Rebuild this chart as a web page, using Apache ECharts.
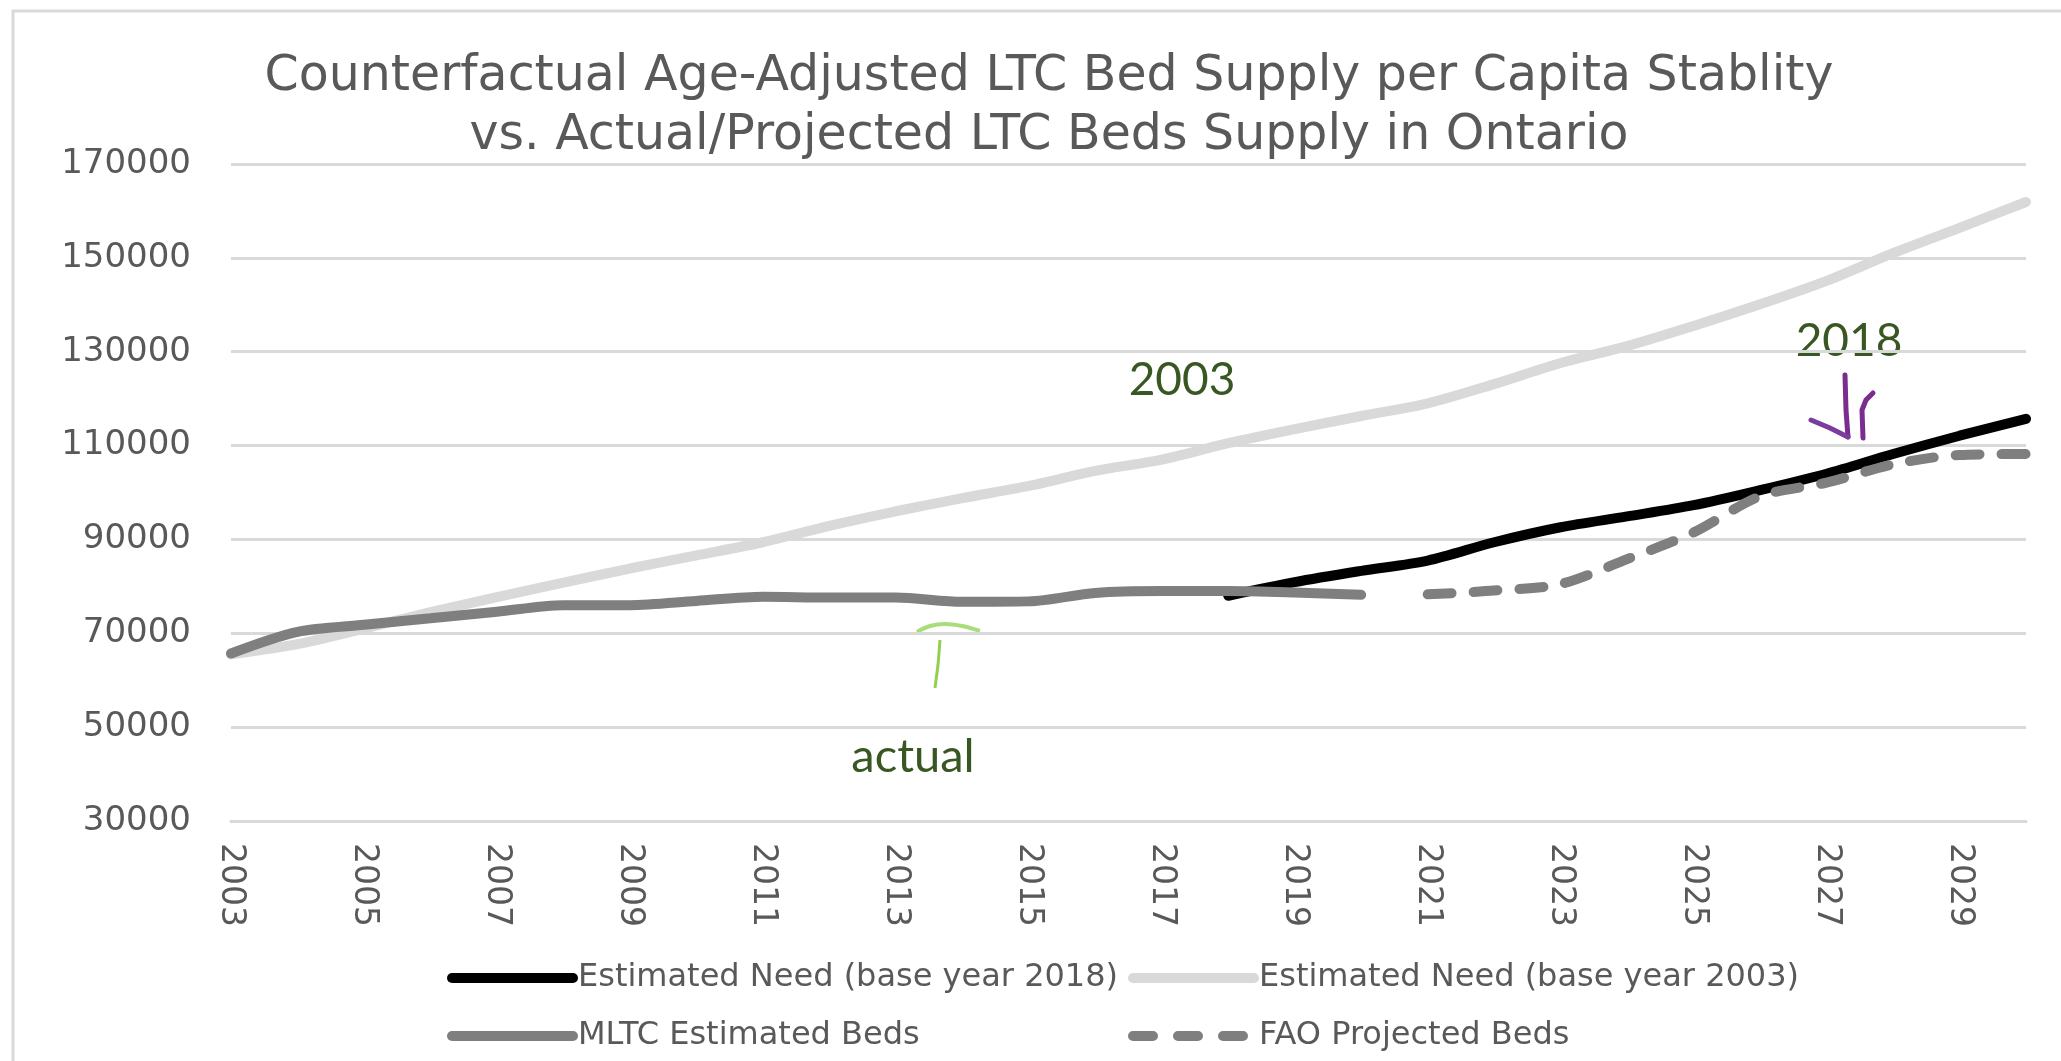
<!DOCTYPE html>
<html>
<head>
<meta charset="utf-8">
<script src="https://cdn.jsdelivr.net/npm/echarts@6/dist/echarts.min.js"></script>
<style>
html,body{margin:0;padding:0;background:#fff;}
#chart{width:2061px;height:1061px;}
</style>
</head>
<body>
<div id="chart"></div>
<script>
const years = ['2003','2004','2005','2006','2007','2008','2009','2010','2011','2012','2013','2014','2015','2016','2017','2018','2019','2020','2021','2022','2023','2024','2025','2026','2027','2028','2029','2030'];
const need2018 = [null,null,null,null,null,null,null,null,null,null,null,null,null,null,null,78000,80900,83300,85500,89400,92600,94900,97300,100500,104000,108200,112100,115700];
const need2003 = [65500,67700,71000,74500,77700,80800,83800,86600,89400,92900,96000,98800,101400,104600,107000,110500,113500,116300,119000,123100,127600,131200,135500,140100,145100,151000,156400,161900];
const mltcBeds = [65700,70300,71800,73200,74600,76000,76000,76900,77800,77600,77600,76700,76800,78600,79000,79000,78700,78200,null,null,null,null,null,null,null,null,null,null];
const faoBeds = [null,null,null,null,null,null,null,null,null,null,null,null,null,null,null,null,null,null,78300,79100,80500,85800,91500,99200,102100,106000,108000,108200];
const seriesNames = ['Estimated Need (base year 2018)','Estimated Need (base year 2003)','MLTC Estimated Beds','FAO Projected Beds'];
const titleText = 'Counterfactual Age-Adjusted LTC Bed Supply per Capita Stablity\nvs. Actual/Projected LTC Beds Supply in Ontario';

const chart = echarts.init(document.getElementById('chart'));
const axisColor = '#595959';
const gridColor = '#d9d9d9';
const smoothV = 0.3;
const legendText = {fontFamily: 'DejaVu Sans', fontSize: 32, color: axisColor};

chart.setOption({
  animation: false,
  backgroundColor: '#ffffff',
  title: {
    text: titleText,
    left: 1044,
    textAlign: 'center',
    top: 43,
    textStyle: {fontFamily: 'DejaVu Sans', fontSize: 49, fontWeight: 'normal', color: axisColor, lineHeight: 59}
  },
  grid: {left: 231, right: 35, top: 164, bottom: 240, containLabel: false},
  xAxis: {
    type: 'category',
    data: years,
    boundaryGap: false,
    axisLine: {show: true, lineStyle: {color: gridColor, width: 3}},
    axisTick: {show: false},
    axisLabel: {interval: 1, rotate: -90, margin: 22, color: axisColor, fontFamily: 'DejaVu Sans', fontSize: 33},
    splitLine: {show: false}
  },
  yAxis: {
    type: 'value',
    min: 30000, max: 170000, interval: 20000,
    axisLine: {show: false},
    axisTick: {show: false},
    axisLabel: {margin: 40, color: axisColor, fontFamily: 'DejaVu Sans', fontSize: 34, formatter: function (v) { return String(v); }},
    splitLine: {show: true, lineStyle: {color: gridColor, width: 3}}
  },
  legend: [
    {
      data: [
        {name: seriesNames[0]},
        {name: seriesNames[2]}
      ],
      orient: 'vertical', left: 447, top: 962, itemGap: 26, padding: 0,
      itemWidth: 121, itemHeight: 14, selectedMode: false,
      lineStyle: {width: 10},
      itemStyle: {opacity: 0},
      textStyle: legendText
    },
    {
      data: [
        {name: seriesNames[1]},
        {name: seriesNames[3], lineStyle: {width: 10, type: [20, 25], cap: 'round'}}
      ],
      orient: 'vertical', left: 1128, top: 962, itemGap: 26, padding: 0,
      itemWidth: 121, itemHeight: 14, selectedMode: false,
      lineStyle: {width: 10},
      itemStyle: {opacity: 0},
      textStyle: legendText
    }
  ],
  series: [
    {name: seriesNames[0], type: 'line', data: need2018, symbol: 'none', smooth: smoothV,
     lineStyle: {color: '#000000', width: 10, cap: 'round'}, itemStyle: {color: '#000000'}},
    {name: seriesNames[1], type: 'line', data: need2003, symbol: 'none', smooth: smoothV,
     lineStyle: {color: '#d9d9d9', width: 10, cap: 'round'}, itemStyle: {color: '#d9d9d9'}},
    {name: seriesNames[2], type: 'line', data: mltcBeds, symbol: 'none', smooth: smoothV,
     lineStyle: {color: '#7f7f7f', width: 10, cap: 'round'}, itemStyle: {color: '#7f7f7f'}},
    {name: seriesNames[3], type: 'line', data: faoBeds, symbol: 'none', smooth: smoothV,
     lineStyle: {color: '#7f7f7f', width: 10, type: [24, 22], cap: 'round'}, itemStyle: {color: '#7f7f7f'}}
  ],
  graphic: [
    {type: 'rect', z: -1, shape: {x: 13, y: 11, width: 3000, height: 3000}, style: {fill: 'none', stroke: '#d9d9d9', lineWidth: 3}},
    {type: 'text', x: 1182, y: 380, style: {text: '2003', fontFamily: 'Lato', fontSize: 46, fill: '#385723', align: 'center', verticalAlign: 'middle'}},
    {type: 'text', x: 1849, y: 341, style: {text: '2018', fontFamily: 'Lato', fontSize: 46, fill: '#385723', align: 'center', verticalAlign: 'middle'}},
    {type: 'text', x: 913, y: 757, style: {text: 'actual', fontFamily: 'Lato', fontSize: 47, fill: '#385723', align: 'center', verticalAlign: 'middle'}},
    {type: 'polyline', shape: {points: [[917, 632], [930, 626], [945, 624], [962, 626], [980, 631]], smooth: 0.4}, style: {stroke: '#a9dc7a', lineWidth: 4, fill: 'none'}},
    {type: 'polyline', shape: {points: [[940, 640], [938, 665], [935, 688]]}, style: {stroke: '#92d050', lineWidth: 3, fill: 'none'}},
    {type: 'polyline', shape: {points: [[1845, 375], [1846, 410], [1848, 437]]}, style: {stroke: '#7b2c8f', lineWidth: 5, fill: 'none', lineCap: 'round'}},
    {type: 'polyline', shape: {points: [[1811, 420], [1830, 428], [1848, 437]]}, style: {stroke: '#7a3d9e', lineWidth: 5, fill: 'none', lineCap: 'round'}},
    {type: 'polyline', shape: {points: [[1863, 438], [1862, 410], [1866, 400], [1873, 393]]}, style: {stroke: '#7b2c8f', lineWidth: 5, fill: 'none', lineCap: 'round'}}
  ]
});
</script>
</body>
</html>
